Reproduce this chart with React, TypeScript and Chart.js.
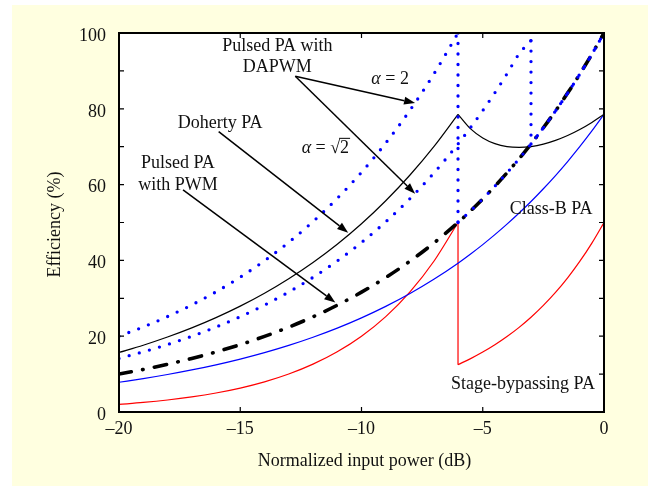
import React, { useEffect, useRef } from "react";
import { Chart, registerables } from "chart.js";

Chart.register(...registerables);

// Normalized input power (dB) sample points
const powerDb = [-20, -19, -18, -17, -16, -15, -14, -13, -12, -11, -10, -9, -8, -7, -6.02, -5.5, -5, -4.5, -4, -3.5, -3.01, -2.5, -2, -1.5, -1, -0.5, 0];

const N = null;

// Efficiency (%) values
const classB = [7.85, 8.81, 9.89, 11.1, 12.45, 13.97, 15.67, 17.58, 19.73, 22.13, 24.84, 27.87, 31.27, 35.08, 39.27, 41.7, 44.17, 46.79, 49.56, 52.5, 55.54, 58.91, 62.39, 66.09, 70.0, 74.15, 78.54];
const doherty = [15.71, 17.62, 19.78, 22.19, 24.9, 27.93, 31.34, 35.17, 39.46, 44.27, 49.67, 55.73, 62.53, 70.16, 78.54, 74.69, 72.31, 70.81, 70.02, 69.83, 70.04, 70.68, 71.67, 72.95, 74.54, 76.41, 78.54];
const pulsedPwm = [10.0, 11.22, 12.59, 14.13, 15.85, 17.78, 19.95, 22.39, 25.12, 28.18, 31.62, 35.48, 39.81, 44.67, 50.0, 53.09, 56.23, 59.57, 63.1, 66.83, 70.71, 74.99, 79.43, 84.14, 89.13, 94.41, 100];
const dapwmAlpha2Rise = [20.0, 22.44, 25.18, 28.25, 31.7, 35.57, 39.91, 44.77, 50.24, 56.37, 63.25, 70.96, 79.62, 89.34, 100, N, N, N, N, N, N, N, N, N, N, N, N];
const dapwmAlpha2Fall = [N, N, N, N, N, N, N, N, N, N, N, N, N, N, 50.0, 53.09, 56.23, 59.57, 63.1, 66.83, 70.71, 74.99, 79.43, 84.14, 89.13, 94.41, 100];
const dapwmRoot2Rise = [14.14, 15.87, 17.8, 19.98, 22.42, 25.15, 28.22, 31.66, 35.52, 39.86, 44.72, 50.18, 56.3, 63.17, 70.71, 75.08, 79.52, 84.24, 89.23, 94.51, 98.0, N, N, N, N, N, N];
const dapwmRoot2Fall = [N, N, N, N, N, N, N, N, N, N, N, N, N, N, N, N, N, N, N, N, 70.71, 74.99, 79.43, 84.14, 89.13, 94.41, 100];
const stageBypassRise = [2.0, 2.52, 3.17, 3.99, 5.02, 6.32, 7.96, 10.02, 12.62, 15.89, 20.0, 25.18, 31.7, 39.91, 50.0, N, N, N, N, N, N, N, N, N, N, N, N];
const stageBypassFall = [N, N, N, N, N, N, N, N, N, N, N, N, N, N, 12.5, 14.09, 15.81, 17.74, 19.91, 22.33, 25.0, 28.12, 31.55, 35.4, 39.72, 44.57, 50.0];

// Axis ticks
const xTicks = [-20, -15, -10, -5, 0];
const yTicks = [0, 20, 40, 60, 80, 100];

// Text labels (data coordinates)
const labels = [
  { lines: ["Pulsed PA with", "DAPWM"], x: -13.47, y: 96.5, dy: 21.5 },
  { lines: ["Doherty PA"], x: -15.83, y: 76.3, dy: 0 },
  { lines: ["Pulsed PA", "with PWM"], x: -17.57, y: 65.7, dy: 22 },
  { lines: ["Class-B PA"], x: -2.18, y: 53.4, dy: 0 },
  { lines: ["Stage-bypassing PA"], x: -3.34, y: 7.3, dy: 0 },
];
// Arrows: from -> to (data coordinates)
const arrows = [
  { x0: -12.73, y0: 88.6, x1: -7.79, y1: 81.5 },
  { x0: -12.73, y0: 88.6, x1: -7.79, y1: 57.6 },
  { x0: -15.89, y0: 74.0, x1: -10.55, y1: 47.3 },
  { x0: -17.36, y0: 58.6, x1: -11.08, y1: 28.9 },
];
const alphaTwoPos = { x: -8.82, y: 87.8 };
const alphaRootPos = { x: -11.49, y: 69.7 };

const FONT = "Liberation Serif, 'Times New Roman', serif";
const BLUE = "#0000ff";
const RED = "#ff0000";

const segment = (ys: (number | null)[], from = 0, to = powerDb.length - 1) =>
  powerDb
    .map((x, i) => ({ x, y: ys[i] }))
    .filter((p, i) => i >= from && i <= to && p.y !== null);

const dropLine = (lo: (number | null)[], hi: (number | null)[]) => {
  let i = lo.length - 1;
  while (lo[i] === null) i--;
  let j = 0;
  while (hi[j] === null) j++;
  return [
    { x: powerDb[i], y: lo[i] },
    { x: powerDb[j], y: hi[j] },
  ];
};

const peakIdx = powerDb.indexOf(-6.02);

const dotted = {
  borderColor: BLUE,
  borderWidth: 3.3,
  borderDash: [0, 10.5],
  borderCapStyle: "round",
};

const decorPlugin = {
  id: "decor",
  beforeDraw(chart: any) {
    const { ctx, chartArea: a, width, height } = chart;
    ctx.save();
    ctx.fillStyle = "#ffffff";
    ctx.fillRect(0, 0, width, height);
    ctx.fillStyle = "#ffffe0";
    ctx.fillRect(12, 5, width - 12, height - 5);
    ctx.fillStyle = "#ffffff";
    ctx.fillRect(a.left, a.top, a.right - a.left, a.bottom - a.top);
    ctx.restore();
  },
  afterDraw(chart: any) {
    const { ctx, chartArea: a, scales } = chart;
    const xs = scales.x;
    const ys = scales.y;
    ctx.save();
    // minor/major inward ticks
    ctx.strokeStyle = "#000";
    ctx.lineWidth = 1.2;
    const tl = 5;
    for (let v = 0; v <= 100; v += 10) {
      const py = ys.getPixelForValue(v);
      ctx.beginPath();
      ctx.moveTo(a.left, py);
      ctx.lineTo(a.left + tl, py);
      ctx.moveTo(a.right, py);
      ctx.lineTo(a.right - tl, py);
      ctx.stroke();
    }
    for (const v of xTicks) {
      const px = xs.getPixelForValue(v);
      ctx.beginPath();
      ctx.moveTo(px, a.bottom);
      ctx.lineTo(px, a.bottom - tl);
      ctx.moveTo(px, a.top);
      ctx.lineTo(px, a.top + tl);
      ctx.stroke();
    }
    // frame
    ctx.lineWidth = 2;
    ctx.strokeRect(a.left, a.top, a.right - a.left, a.bottom - a.top);

    // axis titles
    ctx.fillStyle = "#111";
    ctx.font = `18px ${FONT}`;
    ctx.textAlign = "center";
    ctx.textBaseline = "middle";
    ctx.fillText("Normalized input power (dB)", (a.left + a.right) / 2 + 3, a.bottom + 49);
    ctx.save();
    ctx.translate(55, (a.top + a.bottom) / 2 + 2);
    ctx.rotate(-Math.PI / 2);
    ctx.fillText("Efficiency (%)", 0, 0);
    ctx.restore();

    // labels
    for (const l of labels) {
      const px = xs.getPixelForValue(l.x);
      const py = ys.getPixelForValue(l.y);
      l.lines.forEach((t, k) => ctx.fillText(t, px, py + k * l.dy));
    }

    // alpha = 2
    const drawAlpha = (pos: { x: number; y: number }, root: boolean) => {
      const cx = xs.getPixelForValue(pos.x);
      const cy = ys.getPixelForValue(pos.y);
      ctx.textAlign = "left";
      const fa = `italic 18px ${FONT}`;
      const fn = `18px ${FONT}`;
      ctx.font = fa;
      const wa = ctx.measureText("\u03b1").width;
      ctx.font = fn;
      const we = ctx.measureText(" = ").width;
      const wr = root ? ctx.measureText("\u221a").width : 0;
      const w2 = ctx.measureText("2").width;
      let x = cx - (wa + we + wr + w2) / 2;
      ctx.font = fa;
      ctx.fillText("\u03b1", x, cy);
      x += wa;
      ctx.font = fn;
      ctx.fillText(" = ", x, cy);
      x += we;
      if (root) {
        ctx.fillText("\u221a", x, cy);
        x += wr;
        ctx.lineWidth = 1;
        ctx.beginPath();
        ctx.moveTo(x - 1, cy - 9.5);
        ctx.lineTo(x + w2 + 1, cy - 9.5);
        ctx.stroke();
      }
      ctx.fillText("2", x, cy);
      ctx.textAlign = "center";
    };
    drawAlpha(alphaTwoPos, false);
    drawAlpha(alphaRootPos, true);

    // arrows
    ctx.lineWidth = 1.5;
    ctx.fillStyle = "#000";
    for (const ar of arrows) {
      const x0 = xs.getPixelForValue(ar.x0);
      const y0 = ys.getPixelForValue(ar.y0);
      const x1 = xs.getPixelForValue(ar.x1);
      const y1 = ys.getPixelForValue(ar.y1);
      const ang = Math.atan2(y1 - y0, x1 - x0);
      const hl = 11;
      const hw = 4;
      const bx = x1 - hl * Math.cos(ang);
      const by = y1 - hl * Math.sin(ang);
      ctx.beginPath();
      ctx.moveTo(x0, y0);
      ctx.lineTo(bx, by);
      ctx.stroke();
      ctx.beginPath();
      ctx.moveTo(x1, y1);
      ctx.lineTo(bx + hw * Math.sin(ang), by - hw * Math.cos(ang));
      ctx.lineTo(bx - hw * Math.sin(ang), by + hw * Math.cos(ang));
      ctx.closePath();
      ctx.fill();
    }
    ctx.restore();
  },
};

export default function App() {
  const ref = useRef<HTMLCanvasElement | null>(null);
  useEffect(() => {
    document.body.style.margin = "0";
    const canvas = ref.current;
    if (!canvas) return;
    const base = { showLine: true, pointRadius: 0, fill: false, cubicInterpolationMode: "monotone" };
    const straight = { showLine: true, pointRadius: 0, fill: false, tension: 0 };
    const datasets: any[] = [
      { ...base, ...dotted, data: segment(dapwmAlpha2Rise) },
      { ...straight, ...dotted, data: dropLine(dapwmAlpha2Rise, dapwmAlpha2Fall) },
      { ...base, ...dotted, data: segment(dapwmAlpha2Fall) },
      { ...base, ...dotted, data: segment(dapwmRoot2Rise) },
      { ...straight, ...dotted, data: dropLine(dapwmRoot2Rise, dapwmRoot2Fall) },
      { ...base, ...dotted, data: segment(dapwmRoot2Fall) },
      { ...base, borderColor: "#000", borderWidth: 1.2, data: segment(doherty, 0, peakIdx) },
      { ...base, borderColor: "#000", borderWidth: 1.2, data: segment(doherty, peakIdx) },
      {
        ...base,
        borderColor: "#000",
        borderWidth: 3.6,
        borderCapStyle: "round",
        borderDash: [12.5, 11.5, 0.5, 11.5],
        data: segment(pulsedPwm),
      },
      { ...base, borderColor: BLUE, borderWidth: 1.2, data: segment(classB) },
      { ...base, borderColor: RED, borderWidth: 1.2, data: segment(stageBypassRise) },
      { ...straight, borderColor: RED, borderWidth: 1.2, data: dropLine(stageBypassRise, stageBypassFall) },
      { ...base, borderColor: RED, borderWidth: 1.2, data: segment(stageBypassFall) },
    ];
    const chart = new Chart(canvas, {
      type: "scatter",
      data: { datasets },
      options: {
        animation: false,
        responsive: false,
        maintainAspectRatio: false,
        layout: { padding: { top: 33, right: 44, left: 0, bottom: 0 } },
        plugins: { legend: { display: false }, tooltip: { enabled: false } },
        scales: {
          x: {
            type: "linear",
            min: -20,
            max: 0,
            afterFit: (s: any) => {
              s.height = 74;
            },
            afterBuildTicks: (s: any) => {
              s.ticks = xTicks.map((v) => ({ value: v }));
            },
            grid: { display: false, drawTicks: false },
            border: { display: false },
            ticks: {
              padding: 6,
              color: "#111",
              font: { family: FONT, size: 18 },
              callback: (v: any) => (Number(v) < 0 ? "\u2013" + Math.abs(Number(v)) : String(v)),
              maxRotation: 0,
            },
          },
          y: {
            type: "linear",
            min: 0,
            max: 100,
            afterFit: (s: any) => {
              s.width = 119;
            },
            afterBuildTicks: (s: any) => {
              s.ticks = yTicks.map((v) => ({ value: v }));
            },
            grid: { display: false, drawTicks: false },
            border: { display: false },
            ticks: {
              padding: 13,
              labelOffset: 3,
              color: "#111",
              font: { family: FONT, size: 18 },
            },
          },
        },
      },
      plugins: [decorPlugin],
    } as any);
    return () => chart.destroy();
  }, []);
  return <canvas ref={ref} width={648} height={486} style={{ display: "block", width: 648, height: 486 }} />;
}
